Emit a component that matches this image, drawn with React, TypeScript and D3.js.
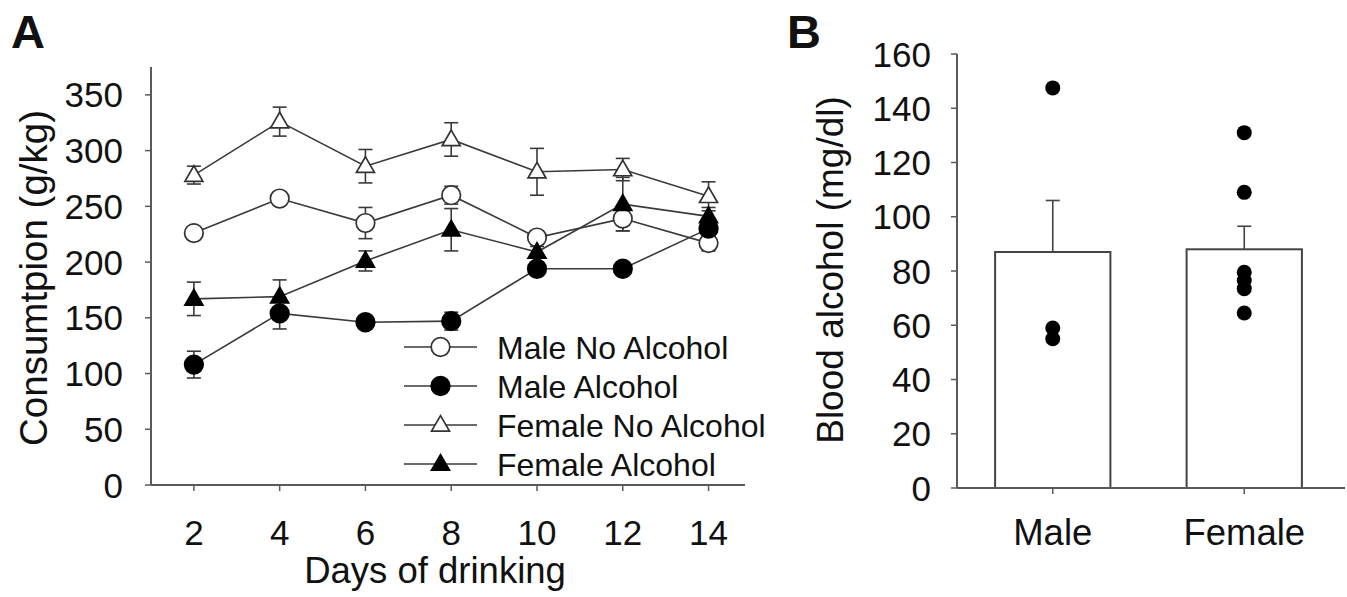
import React from "react";
import * as d3 from "d3";

// ---- Panel A data ----
const days = [2, 4, 6, 8, 10, 12, 14];
const maleNoAlcohol = [226, 257, 235, 260, 222, 239, 217];
const maleNoAlcoholErr = [4, 3, 14, 8, 5, 11, 7];
const maleAlcohol = [108, 154, 146, 147, 194, 194, 230];
const maleAlcoholErr = [12, 14, 3, 8, 5, 3, 9];
const femaleNoAlcohol = [278, 326, 286, 310, 281, 283, 259];
const femaleNoAlcoholErr = [8, 13, 15, 15, 21, 10, 13];
const femaleAlcohol = [167, 169, 201, 229, 209, 252, 241];
const femaleAlcoholErr = [15, 15, 9, 19, 5, 24, 8];
const yTicksA = [0, 50, 100, 150, 200, 250, 300, 350];

// ---- Panel B data ----
const sexes = ["Male", "Female"];
const bacMean = [87, 88];
const bacSem = [19, 8.5];
const malePoints = [147.5, 59, 55];
const femalePoints = [131, 109, 79.5, 76.5, 73.5, 64.5];
const yTicksB = [0, 20, 40, 60, 80, 100, 120, 140, 160];

const FONT = "'Liberation Sans', Arial, Helvetica, sans-serif";
const AXIS = "#5a5a5a";
const LINE = "#3a3a3a";
const INK = "#111";

type Series = {
  name: string;
  values: number[];
  errs: number[];
  shape: "circle" | "triangle";
  filled: boolean;
};

const series: Series[] = [
  { name: "Male No Alcohol", values: maleNoAlcohol, errs: maleNoAlcoholErr, shape: "circle", filled: false },
  { name: "Male Alcohol", values: maleAlcohol, errs: maleAlcoholErr, shape: "circle", filled: true },
  { name: "Female No Alcohol", values: femaleNoAlcohol, errs: femaleNoAlcoholErr, shape: "triangle", filled: false },
  { name: "Female Alcohol", values: femaleAlcohol, errs: femaleAlcoholErr, shape: "triangle", filled: true },
];

const circlePath = d3.symbol(d3.symbolCircle, Math.PI * 9.3 * 9.3)()!;
const trianglePath = d3.symbol(d3.symbolTriangle, 140)()!;

function Marker({ x, y, s }: { x: number; y: number; s: Series }) {
  return (
    <path
      d={s.shape === "circle" ? circlePath : trianglePath}
      transform={`translate(${x},${y + (s.shape === "triangle" ? 1 : 0)})`}
      fill={s.filled ? "#000" : "#fff"}
      stroke={s.filled ? "#000" : "#333"}
      strokeWidth={1.7}
    />
  );
}

export default function App() {
  // Panel A scales
  const xA = d3.scaleLinear().domain([1, 14.85]).range([151, 745]);
  const yA = d3.scaleLinear().domain([0, 375]).range([485, 67]);
  const line = d3
    .line<number>()
    .x((_, i) => xA(days[i]))
    .y((v) => yA(v));

  // Panel B scales
  const xB = d3.scaleBand<string>().domain(sexes).range([957, 1340]).paddingInner(0.398).paddingOuter(0.199);
  const yB = d3.scaleLinear().domain([0, 160]).range([488, 54]);

  const legendX0 = 404;
  const legendX1 = 477;
  const legendY0 = 347;
  const legendStep = 39;

  return (
    <svg
      width={1347}
      height={597}
      style={{ position: "absolute", left: 0, top: 0, background: "#fff" }}
      fontFamily={FONT}
    >
      <rect width={1347} height={597} fill="#fff" />

      {/* Panel labels */}
      <text x={11} y={48} fontSize={47} fontWeight="bold" fill={INK}>A</text>
      <text x={787} y={48} fontSize={47} fontWeight="bold" fill={INK}>B</text>

      {/* ===== Panel A ===== */}
      <g>
        <line x1={xA.range()[0]} x2={xA.range()[0]} y1={yA.range()[1]} y2={yA(0)} stroke={AXIS} strokeWidth={2} />
        <line x1={xA.range()[0]} x2={xA.range()[1]} y1={yA(0)} y2={yA(0)} stroke={AXIS} strokeWidth={2} />
        {yTicksA.map((t) => (
          <g key={t}>
            <line x1={xA.range()[0] - 6} x2={xA.range()[0]} y1={yA(t)} y2={yA(t)} stroke={AXIS} strokeWidth={1.5} />
            <text x={123} y={yA(t)} dy="0.36em" textAnchor="end" fontSize={35} fill={INK}>{t}</text>
          </g>
        ))}
        {days.map((d) => (
          <g key={d}>
            <line x1={xA(d)} x2={xA(d)} y1={yA(0)} y2={yA(0) + 6} stroke={AXIS} strokeWidth={1.5} />
            <text x={xA(d)} y={545} textAnchor="middle" fontSize={35} fill={INK}>{d}</text>
          </g>
        ))}
        <text x={435} y={583} textAnchor="middle" fontSize={36.5} fill={INK}>Days of drinking</text>
        <text
          transform={`translate(33,278) rotate(-90)`}
          textAnchor="middle"
          dominantBaseline="central"
          fontSize={38.5}
          fill={INK}
        >
          Consumtpion (g/kg)
        </text>

        {/* lines */}
        {series.map((s) => (
          <path key={s.name} d={line(s.values)!} fill="none" stroke={LINE} strokeWidth={1.6} />
        ))}
        {/* error bars */}
        {series.map((s) =>
          s.values.map((v, i) => {
            const x = xA(days[i]);
            const y1 = yA(v + s.errs[i]);
            const y2 = yA(v - s.errs[i]);
            return (
              <g key={s.name + i} stroke={LINE} strokeWidth={1.6}>
                <line x1={x} x2={x} y1={y1} y2={y2} />
                <line x1={x - 7} x2={x + 7} y1={y1} y2={y1} />
                <line x1={x - 7} x2={x + 7} y1={y2} y2={y2} />
              </g>
            );
          })
        )}
        {/* markers */}
        {series.map((s) =>
          s.values.map((v, i) => <Marker key={s.name + "m" + i} x={xA(days[i])} y={yA(v)} s={s} />)
        )}

        {/* legend */}
        {series.map((s, i) => {
          const y = legendY0 + i * legendStep;
          return (
            <g key={"lg" + s.name}>
              <line x1={legendX0} x2={legendX1} y1={y} y2={y} stroke={LINE} strokeWidth={1.6} />
              <Marker x={(legendX0 + legendX1) / 2} y={y} s={s} />
              <text x={497} y={y} dy="0.36em" fontSize={32} fill={INK}>{s.name}</text>
            </g>
          );
        })}
      </g>

      {/* ===== Panel B ===== */}
      <g>
        {sexes.map((sx, i) => {
          const x0 = xB(sx)!;
          const w = xB.bandwidth();
          const cx = x0 + w / 2;
          const top = yB(bacMean[i]);
          const errTop = yB(bacMean[i] + bacSem[i]);
          return (
            <g key={sx}>
              <rect x={x0} y={top} width={w} height={yB(0) - top} fill="#fff" stroke="#444" strokeWidth={2} />
              <line x1={cx} x2={cx} y1={top} y2={errTop} stroke="#444" strokeWidth={1.6} />
              <line x1={cx - 7} x2={cx + 7} y1={errTop} y2={errTop} stroke="#444" strokeWidth={1.6} />
            </g>
          );
        })}
        <line x1={957} x2={957} y1={yB(160)} y2={yB(0)} stroke={AXIS} strokeWidth={2} />
        <line x1={957} x2={1345} y1={yB(0)} y2={yB(0)} stroke={AXIS} strokeWidth={2} />
        {yTicksB.map((t) => (
          <g key={t}>
            <line x1={951} x2={957} y1={yB(t)} y2={yB(t)} stroke={AXIS} strokeWidth={1.5} />
            <text x={931} y={yB(t)} dy="0.36em" textAnchor="end" fontSize={35} fill={INK}>{t}</text>
          </g>
        ))}
        {sexes.map((sx) => {
          const cx = xB(sx)! + xB.bandwidth() / 2;
          return (
            <g key={"t" + sx}>
              <line x1={cx} x2={cx} y1={yB(0)} y2={yB(0) + 6} stroke={AXIS} strokeWidth={1.5} />
              <text x={cx} y={545} textAnchor="middle" fontSize={36.5} fill={INK}>{sx}</text>
            </g>
          );
        })}
        <text
          transform={`translate(830,270) rotate(-90)`}
          textAnchor="middle"
          dominantBaseline="central"
          fontSize={37}
          fill={INK}
        >
          Blood alcohol (mg/dl)
        </text>
        {[malePoints, femalePoints].map((pts, gi) =>
          pts.map((v, j) => (
            <circle
              key={gi + "-" + j}
              cx={xB(sexes[gi])! + xB.bandwidth() / 2}
              cy={yB(v)}
              r={7.5}
              fill="#000"
            />
          ))
        )}
      </g>
    </svg>
  );
}
